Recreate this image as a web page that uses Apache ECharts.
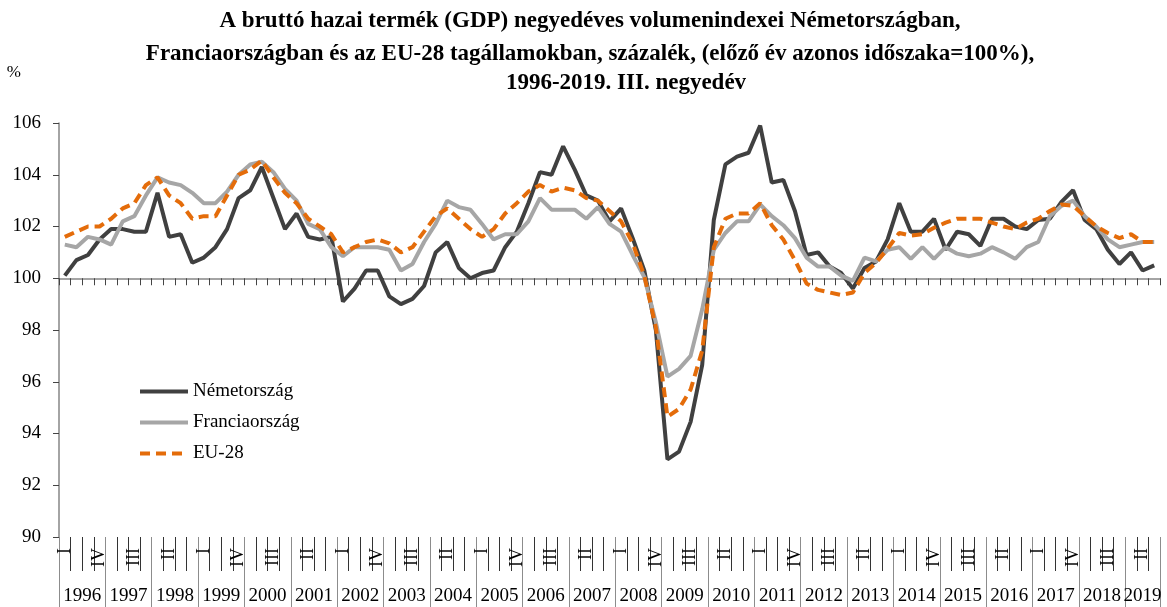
<!DOCTYPE html>
<html>
<head>
<meta charset="utf-8">
<script src="https://cdn.jsdelivr.net/npm/echarts@6/dist/echarts.min.js"></script>
<style>
  html, body { margin: 0; padding: 0; background: #fff; }
  #chart { width: 1167px; height: 607px; }
</style>
</head>
<body>
<div id="chart"></div>
<script>
// évek és negyedévek
const years = ['1996','1997','1998','1999','2000','2001','2002','2003','2004','2005','2006','2007',
  '2008','2009','2010','2011','2012','2013','2014','2015','2016','2017','2018','2019']
const quarters = ['I','II','III','IV']

// Németország
const deData = [
  100.1, 100.7, 100.9, 101.5,
  101.9, 101.9, 101.8, 101.8,
  103.3, 101.6, 101.7, 100.6,
  100.8, 101.2, 101.9, 103.1,
  103.4, 104.3, 103.1, 101.9,
  102.5, 101.6, 101.5, 101.6,
  99.1, 99.6, 100.3, 100.3,
  99.3, 99.0, 99.2, 99.7,
  101.0, 101.4, 100.4, 100.0,
  100.2, 100.3, 101.2, 101.8,
  102.9, 104.1, 104.0, 105.1,
  104.2, 103.2, 103.0, 102.2,
  102.7, 101.55, 100.3, 98.0,
  93.0, 93.3, 94.45, 96.65,
  102.25, 104.4, 104.7, 104.85,
  105.9, 103.7, 103.8, 102.6,
  100.9, 101.0, 100.45, 100.2,
  99.6, 100.4, 100.65, 101.5,
  102.9, 101.8, 101.8, 102.3,
  101.1, 101.8, 101.7, 101.25,
  102.3, 102.3, 102.0, 101.9,
  102.25, 102.3, 102.95, 103.4,
  102.25, 101.9, 101.1, 100.55,
  101.0, 100.3, 100.5
]
// Franciaország
const frData = [
  101.3, 101.2, 101.6, 101.5,
  101.3, 102.2, 102.4, 103.2,
  103.9, 103.7, 103.6, 103.3,
  102.9, 102.9, 103.35, 104.0,
  104.4, 104.5, 104.1, 103.45,
  103.0, 102.1, 101.9, 101.2,
  100.85, 101.2, 101.2, 101.2,
  101.1, 100.3, 100.55, 101.4,
  102.1, 103.0, 102.75, 102.65,
  102.1, 101.5, 101.7, 101.7,
  102.2, 103.1, 102.65, 102.65,
  102.65, 102.3, 102.75, 102.1,
  101.8, 100.9, 100.05, 98.3,
  96.2, 96.5, 97.0, 98.8,
  101.1, 101.75, 102.2, 102.2,
  102.85, 102.4, 102.05, 101.55,
  100.8, 100.45, 100.45, 100.1,
  99.9, 100.8, 100.65, 101.1,
  101.2, 100.75, 101.2, 100.75,
  101.2, 100.95, 100.85, 100.95,
  101.2, 101.0, 100.75, 101.2,
  101.4, 102.4, 102.8, 103.0,
  102.4, 102.0, 101.5, 101.2,
  101.3, 101.4, 101.4
]
// EU-28
const euData = [
  101.6, 101.8, 102.0, 102.0,
  102.3, 102.7, 102.9, 103.6,
  103.9, 103.2, 102.9, 102.3,
  102.4, 102.4, 103.2, 104.0,
  104.2, 104.55, 103.9, 103.3,
  102.9, 102.3, 102.0, 101.7,
  101.0, 101.2, 101.4, 101.5,
  101.35, 101.0, 101.2, 101.8,
  102.4, 102.7, 102.3, 101.9,
  101.6, 101.9, 102.5, 102.9,
  103.35, 103.6, 103.35, 103.5,
  103.4, 103.1, 103.0, 102.6,
  102.2, 101.35, 100.1, 98.1,
  94.65, 94.95, 95.7, 97.2,
  101.2, 102.3, 102.5, 102.5,
  102.9, 102.05, 101.5, 100.7,
  99.8, 99.55, 99.45, 99.35,
  99.45, 100.2, 100.6, 101.15,
  101.75, 101.65, 101.7, 101.95,
  102.15, 102.3, 102.3, 102.3,
  102.15, 102.0, 101.9, 102.15,
  102.3, 102.6, 102.85, 102.8,
  102.4, 102.0, 101.75, 101.55,
  101.7, 101.4, 101.4
]

// kategóriák: "1996 I" ...
const cats = []
for (var i = 0; i < deData.length; i++) {
  cats.push(years[Math.floor(i / 4)] + ' ' + quarters[i % 4])
}

const font = '"Liberation Serif", "DejaVu Serif", serif'
const gridTop = 123, gridBottom = 70, gridH = 607 - gridTop - gridBottom

const chart = echarts.init(document.getElementById('chart'), null, { renderer: 'canvas' })

const option = {
  backgroundColor: '#ffffff',
  animation: false,
  title: [{
    text: 'A bruttó hazai termék (GDP) negyedéves volumenindexei Németországban,\nFranciaországban és az EU-28 tagállamokban, százalék, (előző év azonos időszaka=100%),',
    left: 585, top: 0, textAlign: 'center',
    textStyle: { fontFamily: font, fontSize: 23, fontWeight: 'bold', color: '#000', lineHeight: 33 }
  }, {
    text: '1996-2019. III. negyedév',
    left: 621, top: 67, textAlign: 'center',
    textStyle: { fontFamily: font, fontSize: 23, fontWeight: 'bold', color: '#000' }
  }],
  legend: {
    orient: 'vertical', left: 133, top: 377,
    itemWidth: 48, itemHeight: 12, itemGap: 12,
    itemStyle: { opacity: 0 },
    lineStyle: { width: 4 },
    textStyle: { fontFamily: font, fontSize: 19, color: '#000' },
    data: ['Németország', 'Franciaország', 'EU-28']
  },
  grid: { left: 59, right: 7, top: gridTop, bottom: gridBottom },
  xAxis: [{
    // negyedévek
    type: 'category', data: cats, position: 'bottom',
    axisLine: { show: false },
    axisTick: { show: true, interval: 0, length: 34, lineStyle: { color: '#333', width: 1 } },
    axisLabel: {
      interval: 2, rotate: 90, margin: 11,
      fontFamily: font, fontSize: 18, color: '#000',
      formatter: function (v) { return v.split(' ')[1] }
    }
  }, {
    // évek
    type: 'category', data: cats, position: 'bottom',
    axisLine: { show: false },
    axisTick: {
      show: true, length: 70, lineStyle: { color: '#8c8c8c', width: 1 },
      interval: function (idx) { return idx % 4 === 0 }
    },
    axisLabel: {
      margin: 50, fontFamily: font, fontSize: 19, color: '#000',
      interval: function (idx) { return idx === 93 || (idx % 4 === 1 && idx < 92) },
      formatter: function (v) {
        var y = v.split(' ')[0]
        return y === '2019' ? '{b|' + y + '}' : '{a|' + y + '}'
      },
      rich: {
        a: { fontFamily: font, fontSize: 19, color: '#000', padding: [0, 0, 0, 11.6] },
        b: { fontFamily: font, fontSize: 19, color: '#000' }
      }
    }
  }, {
    // 100-as tengely
    type: 'category', data: cats, position: 'bottom', offset: -gridH * 10 / 16,
    axisLine: { show: true, lineStyle: { color: '#868686', width: 1.5 } },
    axisTick: { show: true, interval: 0, length: 7, lineStyle: { color: '#444', width: 1 } },
    axisLabel: { show: false }
  }],
  yAxis: {
    type: 'value', min: 90, max: 106, interval: 2,
    name: '%', nameLocation: 'end', nameGap: 42,
    nameTextStyle: { fontFamily: font, fontSize: 17, color: '#000', align: 'right', padding: [0, 38, 0, 0] },
    axisLine: { show: true, lineStyle: { color: '#868686', width: 1.5 } },
    axisTick: { show: true, length: 6, lineStyle: { color: '#444' } },
    axisLabel: { margin: 18, fontFamily: font, fontSize: 19, color: '#000' },
    splitLine: { show: false }
  },
  series: [{
    name: 'Németország', type: 'line', data: deData, xAxisIndex: 0,
    symbol: 'none', lineStyle: { color: '#404040', width: 4 }, itemStyle: { color: '#404040' }
  }, {
    name: 'Franciaország', type: 'line', data: frData, xAxisIndex: 0,
    symbol: 'none', lineStyle: { color: '#a6a6a6', width: 4 }, itemStyle: { color: '#a6a6a6' }
  }, {
    name: 'EU-28', type: 'line', data: euData, xAxisIndex: 0,
    symbol: 'none', lineStyle: { color: '#e46c0a', width: 4, type: [10, 6] }, itemStyle: { color: '#e46c0a' }
  }]
}

chart.setOption(option)
</script>
</body>
</html>
